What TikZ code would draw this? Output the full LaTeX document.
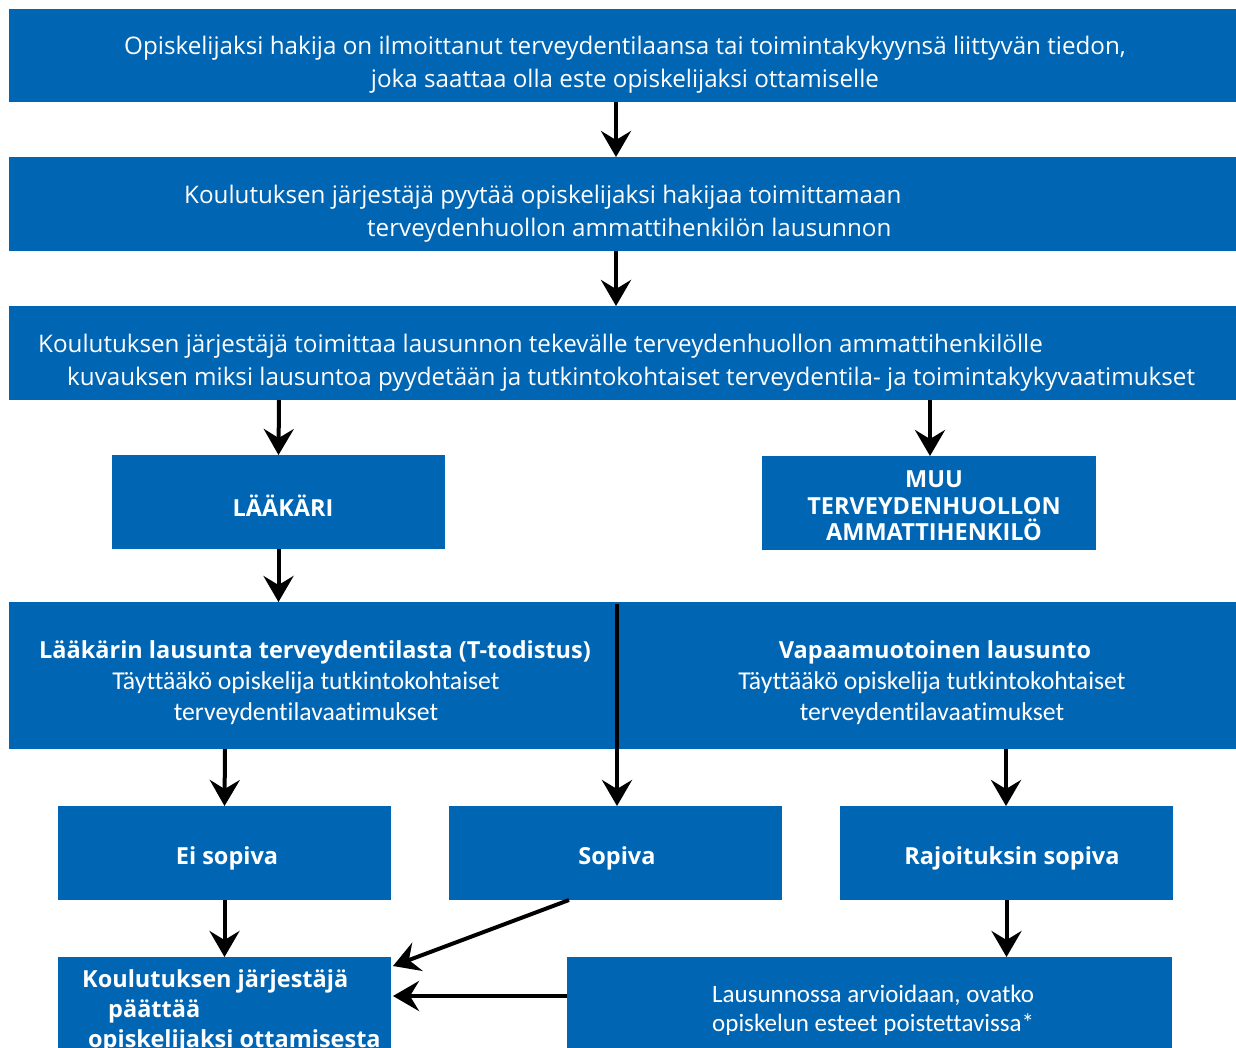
\documentclass[tikz,border=0pt]{standalone}
\usepackage{fontspec}
\setmainfont{Carlito}[Ligatures=NoCommon]
\newfontfamily\osans{Open Sans}
\usetikzlibrary{arrows.meta,calc}
\definecolor{boxblue}{RGB}{0,101,179}
\begin{document}
\begin{tikzpicture}[x=1pt,y=-1pt,
  box/.style={fill=boxblue,draw=none,inner sep=0pt,outer sep=0pt},
  txt/.style={text=white,inner sep=0pt,font=\osans\fontsize{24.2}{33}\selectfont},
  mtxt/.style={text=white,inner sep=0pt,font=\fontsize{25.7}{30.5}\selectfont},
  btxt/.style={text=white,inner sep=0pt,font=\osans\fontsize{23.5}{26.5}\selectfont\bfseries},
  arr/.style={line width=4pt,-{Stealth[length=26pt,width=30pt,inset=9pt]}}]
\useasboundingbox (0,0) rectangle (1236,1047);
% boxes
\node[box,minimum width=1227pt,minimum height=93pt] (b1) at (622.5,55.5) {};
\node[box,minimum width=1227pt,minimum height=94pt] (b2) at (622.5,204) {};
\node[box,minimum width=1227pt,minimum height=94pt] (b3) at (622.5,353) {};
\node[box,minimum width=333pt,minimum height=94pt] (lk) at (278.5,502) {};
\node[box,minimum width=334pt,minimum height=94pt] (muu) at (929,503) {};
\node[box,minimum width=1227pt,minimum height=147pt] (big) at (622.5,675.5) {};
\node[box,minimum width=333pt,minimum height=94pt] (ei) at (224.5,853) {};
\node[box,minimum width=333pt,minimum height=94pt] (sop) at (615.5,853) {};
\node[box,minimum width=333pt,minimum height=94pt] (raj) at (1006.5,853) {};
\node[box,minimum width=333pt,minimum height=100pt] (dec) at (224.5,1007) {};
\node[box,minimum width=605pt,minimum height=100pt] (las) at (869.5,1007) {};
% texts
\node[txt,align=center] (t1) at (625,64.5) {Opiskelijaksi hakija on ilmoittanut terveydentilaansa tai toimintakykyynsä liittyvän tiedon,\\joka saattaa olla este opiskelijaksi ottamiselle};
\node[txt,align=left,anchor=west] (t2) at (184,213.5) {Koulutuksen järjestäjä pyytää opiskelijaksi hakijaa toimittamaan\\\hspace*{183pt}terveydenhuollon ammattihenkilön lausunnon};
\node[txt,align=left,anchor=west] (t3) at (38,362.5) {Koulutuksen järjestäjä toimittaa lausunnon tekevälle terveydenhuollon ammattihenkilölle\\\hspace*{29pt}kuvauksen miksi lausuntoa pyydetään ja tutkintokohtaiset terveydentila- ja toimintakykyvaatimukset};
\node[btxt] (tlk) at (283,506) {LÄÄKÄRI};
\node[btxt,align=center] (tmuu) at (934,506) {MUU\\TERVEYDENHUOLLON\\AMMATTIHENKILÖ};
\node[btxt] (tl1) at (315,652) {Lääkärin lausunta terveydentilasta (T-todistus)};
\node[mtxt,align=center] (tl2) at (306,698) {Täyttääkö opiskelija tutkintokohtaiset\\terveydentilavaatimukset};
\node[btxt] (tr1) at (935,652) {Vapaamuotoinen lausunto};
\node[mtxt,align=center] (tr2) at (932,698) {Täyttääkö opiskelija tutkintokohtaiset\\terveydentilavaatimukset};
\node[btxt] (tei) at (227,858) {Ei sopiva};
\node[btxt] (tsop) at (617,858) {Sopiva};
\node[btxt] (traj) at (1012,858) {Rajoituksin sopiva};
\node[btxt,align=left,anchor=west,font=\osans\fontsize{23.5}{30}\selectfont\bfseries] (tdec) at (82,1011) {Koulutuksen järjestäjä\\\hspace*{26pt}päättää\\\hspace*{6pt}opiskelijaksi ottamisesta};
\node[mtxt,align=left,anchor=west,font=\fontsize{25}{29}\selectfont] (tlas) at (712,1010) {Lausunnossa arvioidaan, ovatko\\opiskelun esteet poistettavissa*};
% connectors
\coordinate (top) at (617,604);
\draw[arr] ([xshift=-6.5pt]b1.south) -- ([xshift=-6.5pt]b2.north);
\draw[arr] ([xshift=-6.5pt]b2.south) -- ([xshift=-6.5pt]b3.north);
\draw[arr] ([xshift=-343.5pt]b3.south) -- (lk.north);
\draw[arr] ([xshift=307.5pt]b3.south) -- ([xshift=307.5pt]b3.south |- muu.north);
\draw[arr] (lk.south) -- (lk.south |- big.north);
\draw[arr] (top) -- (top |- sop.north);
\draw[arr] ([xshift=-397.5pt]big.south) -- (ei.north);
\draw[arr] ([xshift=383.5pt]big.south) -- ([xshift=383.5pt]big.south |- raj.north);
\draw[arr] (ei.south) -- (ei.south |- dec.north);
\draw[arr] (raj.south) -- (raj.south |- las.north);
\draw[arr] ([xshift=-46.5pt]sop.south) -- ($(dec.north east)+(2,9)$);
\draw[arr] ($(las.north west)+(0,39)$) -- ($(dec.north east)+(2,39)$);
\end{tikzpicture}
\end{document}
